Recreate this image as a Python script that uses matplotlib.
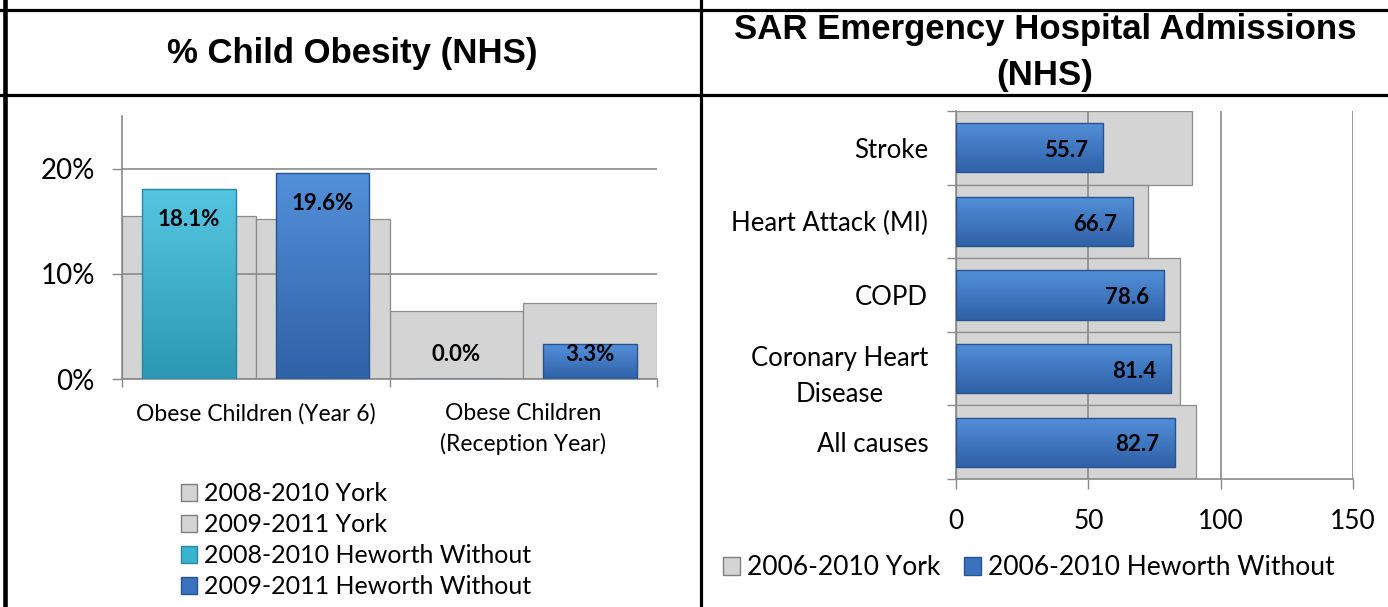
import matplotlib
matplotlib.use("Agg")
import matplotlib.pyplot as plt
import numpy as np
from matplotlib.colors import LinearSegmentedColormap
from matplotlib.lines import Line2D
from matplotlib.patches import Patch

plt.rcParams['font.family'] = ['Lato', 'DejaVu Sans']

# --- data ---------------------------------------------------------------
obesity_cats = ["Obese Children (Year 6)", "Obese Children\n(Reception Year)"]
york_0810 = [15.5, 6.5]
york_0911 = [15.2, 7.2]
hew_0810 = [18.1, 0.0]
hew_0911 = [19.6, 3.3]
obesity_series = ["2008-2010 York", "2009-2011 York",
                  "2008-2010 Heworth Without", "2009-2011 Heworth Without"]

sar_cats = ["Stroke", "Heart Attack (MI)", "COPD", "Coronary Heart\nDisease", "All causes"]
sar_york = [89.3, 72.7, 84.7, 84.7, 90.8]
sar_hew = [55.7, 66.7, 78.6, 81.4, 82.7]
sar_series = ["2006-2010 York", "2006-2010 Heworth Without"]

# --- styling ------------------------------------------------------------
W, H = 1388, 607
GREY = "#D4D4D4"
GREY_EDGE = "#8C8C8C"
GRID = "#8A8A8A"
CYAN = ("#55C6E2", "#2C98B3", "#2A86A0")   # top, bottom, edge
BLUE = ("#5390DA", "#2F61A6", "#27548E")


def fx(px):
    return px / W


def fy(py):
    return 1 - py / H


def gradient_fill(ax, patch, top, bottom, inverted=False):
    x0, y0 = patch.get_xy()
    w, h = patch.get_width(), patch.get_height()
    if w == 0 or h == 0:
        return
    cmap = LinearSegmentedColormap.from_list("g", [bottom, top])
    g = np.linspace(0, 1, 128).reshape(-1, 1)
    if inverted:
        ext = [x0, x0 + w, y0 + h, y0]
    else:
        ext = [x0, x0 + w, y0, y0 + h]
    im = ax.imshow(g, cmap=cmap, extent=ext, origin="lower", aspect="auto",
                   zorder=patch.get_zorder() + 0.1, interpolation="bilinear")
    im.set_clip_path(patch)


fig = plt.figure(figsize=(W / 100, H / 100), dpi=100)

# --- left chart: child obesity -----------------------------------------
axL = fig.add_axes([fx(122), fy(379), (657 - 122) / W, (379 - 116) / H])
x = np.arange(len(obesity_cats))
axL.bar(x - 0.25, york_0810, 0.5, color=GREY, edgecolor=GREY_EDGE, linewidth=0.9, zorder=1)
axL.bar(x + 0.25, york_0911, 0.5, color=GREY, edgecolor=GREY_EDGE, linewidth=0.9, zorder=1)
b1 = axL.bar(x - 0.25, hew_0810, 0.35, color=CYAN[1], linewidth=0, zorder=3)
b2 = axL.bar(x + 0.25, hew_0911, 0.35, color=BLUE[1], linewidth=0, zorder=3)
for bars, col in [(b1, CYAN), (b2, BLUE)]:
    for p in bars:
        gradient_fill(axL, p, col[0], col[1])
    axL.bar([p.get_x() + p.get_width() / 2 for p in bars], [p.get_height() for p in bars],
            0.35, facecolor="none", edgecolor=col[2], linewidth=1.0, zorder=3.5)

for xs, vals in [(x - 0.25, hew_0810), (x + 0.25, hew_0911)]:
    for xi, v in zip(xs, vals):
        axL.text(xi, max(v - 2.9, 2.3), f"{v:.1f}%", ha="center", va="center",
                 fontsize=16, fontweight="bold", zorder=5)

axL.set_xlim(-0.5, 1.5)
axL.set_ylim(0, 25)
axL.set_yticks([0, 10, 20])
axL.set_yticklabels(["0%", "10%", "20%"])
axL.set_xticks(x)
axL.set_xticklabels(obesity_cats, linespacing=1.5)
axL.set_xticks([-0.5, 0.5, 1.5], minor=True)
axL.tick_params(axis="x", which="major", length=0, pad=17, labelsize=16.5)
axL.tick_params(axis="x", which="minor", length=6, color=GRID, width=1)
axL.tick_params(axis="y", length=7.5, color=GRID, width=1, pad=12, labelsize=20)
axL.grid(axis="y", color=GRID, linewidth=1.2, zorder=2)
axL.set_axisbelow(False)
for s in ["top", "right"]:
    axL.spines[s].set_visible(False)
for s in ["left", "bottom"]:
    axL.spines[s].set_color(GRID)
    axL.spines[s].set_linewidth(1.2)
for gl in axL.get_ygridlines():
    gl.set_zorder(2)

hL = [Patch(facecolor=GREY, edgecolor="#7F7F7F"),
      Patch(facecolor=GREY, edgecolor="#7F7F7F"),
      Patch(facecolor="#38B4D0", edgecolor=CYAN[2]),
      Patch(facecolor="#3A72BF", edgecolor=BLUE[2])]
fig.legend(hL, obesity_series, loc="upper left", bbox_to_anchor=(fx(181), fy(482)),
           frameon=False, fontsize=18, handlelength=0.65, handleheight=0.65,
           handletextpad=0.25, labelspacing=0.32, borderpad=0, borderaxespad=0)

# --- right chart: SAR emergency admissions ------------------------------
axR = fig.add_axes([fx(956), fy(479), (1353 - 956) / W, (479 - 111) / H])
y = np.arange(len(sar_cats))
axR.barh(y, sar_york, 1.0, color=GREY, edgecolor=GREY_EDGE, linewidth=0.9, zorder=1)
bh = axR.barh(y, sar_hew, 0.67, color=BLUE[1], linewidth=0, zorder=3)
for p in bh:
    gradient_fill(axR, p, BLUE[0], BLUE[1], inverted=True)
axR.barh(y, sar_hew, 0.67, facecolor="none", edgecolor=BLUE[2], linewidth=1.0, zorder=3.5)
for yi, v in zip(y, sar_hew):
    axR.annotate(f"{v:.1f}", (v, yi), xytext=(-11, -2), textcoords="offset points",
                 ha="right", va="center", fontsize=16, fontweight="bold", zorder=5)

axR.set_xlim(0, 150)
axR.set_ylim(len(sar_cats) - 0.5, -0.5)
axR.set_xticks([0, 50, 100, 150])
axR.set_yticks(y)
axR.set_yticklabels(sar_cats, multialignment="center", linespacing=1.55)
axR.set_yticks(np.arange(len(sar_cats) + 1) - 0.5, minor=True)
axR.tick_params(axis="y", which="major", length=0, pad=20, labelsize=18.5)
axR.tick_params(axis="y", which="minor", length=6.5, color=GRID, width=1)
axR.tick_params(axis="x", length=7.5, color=GRID, width=1, pad=14, labelsize=19)
axR.grid(axis="x", color=GRID, linewidth=1.2)
axR.set_axisbelow(False)
for gl in axR.get_xgridlines():
    gl.set_zorder(2)
for s in ["top", "right"]:
    axR.spines[s].set_visible(False)
for s in ["left", "bottom"]:
    axR.spines[s].set_color(GRID)
    axR.spines[s].set_linewidth(1.2)

hR = [Patch(facecolor=GREY, edgecolor="#7F7F7F"),
      Patch(facecolor="#3A72BF", edgecolor=BLUE[2])]
fig.legend(hR, sar_series, loc="upper left", bbox_to_anchor=(fx(723), fy(555)), ncol=2,
           frameon=False, fontsize=19, handlelength=0.65, handleheight=0.65,
           handletextpad=0.25, columnspacing=0.9, borderpad=0, borderaxespad=0)

# --- table frame and headers -------------------------------------------
hdr = dict(ha="center", va="center", fontsize=25, fontweight="bold",
           family=["Liberation Sans", "DejaVu Sans"])
fig.text(fx(352), fy(54), "% Child Obesity (NHS)", **hdr)
fig.text(fx(1045), fy(30), "SAR Emergency Hospital Admissions", **hdr)
fig.text(fx(1045), fy(76), "(NHS)", **hdr)

for yy in [9.5, 94.5]:
    fig.add_artist(Line2D([0, 1], [fy(yy), fy(yy)], transform=fig.transFigure,
                          color="black", linewidth=2.3, zorder=10))
fig.add_artist(Line2D([fx(5), fx(5)], [0, 1], transform=fig.transFigure,
                      color="black", linewidth=3.3, zorder=10))
fig.add_artist(Line2D([fx(700.5), fx(700.5)], [0, 1], transform=fig.transFigure,
                      color="black", linewidth=2.3, zorder=10))

fig.savefig("out.png", dpi=100)
